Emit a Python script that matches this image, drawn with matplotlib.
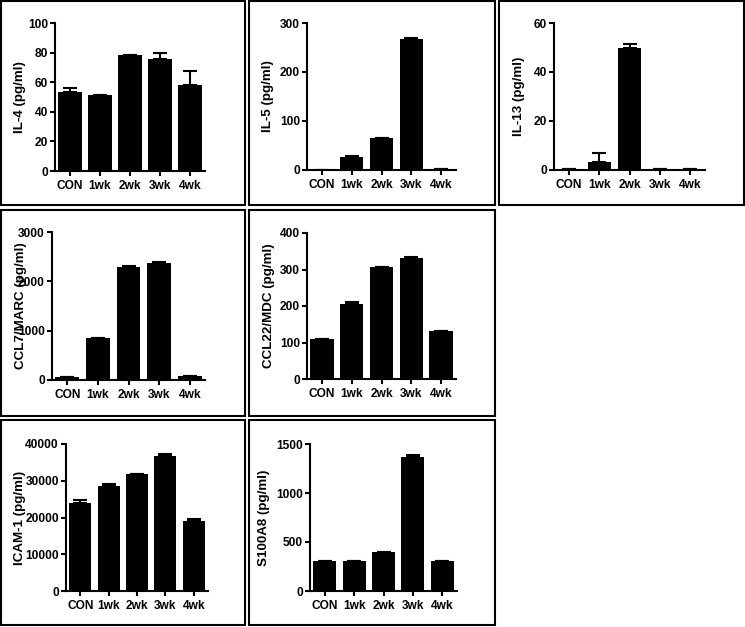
import matplotlib
matplotlib.use("Agg")
import matplotlib.pyplot as plt
from matplotlib.patches import Rectangle

plt.rcParams['font.family'] = ['Liberation Sans', 'DejaVu Sans']
plt.rcParams['font.weight'] = 'bold'

groups = ['CON', '1wk', '2wk', '3wk', '4wk']

il4 = [53.6, 51.4, 78.4, 75.5, 58.1]
il4_err = [2.7, 0, 0, 4.0, 9.5]
il5 = [1, 27, 65.8, 268, 1.5]
il5_err = [0, 1, 0.5, 1.5, 0]
il13 = [0.5, 3.4, 49.6, 0.5, 0.5]
il13_err = [0, 3.4, 2.0, 0, 0]
ccl7 = [67, 846, 2289, 2370, 88]
ccl7_err = [0, 10, 15, 15, 0]
ccl22 = [108.5, 205, 307, 332.7, 131]
ccl22_err = [0, 4.7, 1, 1, 0]
icam1 = [23830, 28630, 31740, 36730, 19000]
icam1_err = [820, 470, 100, 460, 470]
s100a8 = [307, 307, 399, 1370, 307]
s100a8_err = [0, 0, 0, 18, 0]

W, H = 745, 627
fig = plt.figure(figsize=(W / 100, H / 100), dpi=100)

# (label, values, err, yticks, axes box px [x0, x1, ytop, ybot], label x px, panel box px)
panels = [
    ('IL-4 (pg/ml)', il4, il4_err, [0, 20, 40, 60, 80, 100], [55, 205, 23, 171], 20.5, [1, 245, 1, 205]),
    ('IL-5 (pg/ml)', il5, il5_err, [0, 100, 200, 300], [307, 456, 23, 170], 268, [249, 495, 1, 205]),
    ('IL-13 (pg/ml)', il13, il13_err, [0, 20, 40, 60], [554, 705, 23, 170], 519, [499, 744, 1, 205]),
    ('CCL7/MARC (pg/ml)', ccl7, ccl7_err, [0, 1000, 2000, 3000], [52, 205, 232, 380], 21, [1, 245, 210, 416]),
    ('CCL22/MDC (pg/ml)', ccl22, ccl22_err, [0, 100, 200, 300, 400], [307, 456, 233, 379], 269, [249, 495, 210, 416]),
    ('ICAM-1 (pg/ml)', icam1, icam1_err, [0, 10000, 20000, 30000, 40000], [66, 208, 444, 591], 20, [1, 245, 420, 625]),
    ('S100A8 (pg/ml)', s100a8, s100a8_err, [0, 500, 1000, 1500], [310, 457, 444, 591], 264, [249, 495, 420, 625]),
]

for label, vals, err, yt, (x0, x1, yt_px, yb_px), lx, (bx0, bx1, by0, by1) in panels:
    # panel frame
    fig.add_artist(Rectangle((bx0 / W, 1 - by1 / H), (bx1 - bx0) / W, (by1 - by0) / H,
                             transform=fig.transFigure, fill=False, lw=1.5, ec='black'))
    ax = fig.add_axes([x0 / W, 1 - yb_px / H, (x1 - x0) / W, (yb_px - yt_px) / H])
    xs = range(len(groups))
    ax.bar(xs, vals, width=0.78, color='black', zorder=2)
    ax.errorbar(xs, vals, yerr=[[0] * len(err), err], fmt='none', ecolor='black',
                elinewidth=1.5, capsize=5, capthick=1.5, zorder=3)
    ax.set_xlim(-0.5, 4.5)
    ax.set_ylim(0, yt[-1])
    ax.set_yticks(yt)
    ax.set_xticks(list(xs))
    ax.set_xticklabels(groups)
    for s in ['top', 'right']:
        ax.spines[s].set_visible(False)
    for s in ['left', 'bottom']:
        ax.spines[s].set_linewidth(1.5)
    ax.tick_params(direction='out', length=3.6, width=1.5, labelsize=8.6, pad=1.5)
    ax.tick_params(axis='x', pad=3)
    ax.set_ylabel(label, fontsize=9.6, fontweight='bold', va='center')
    ax.yaxis.set_label_coords((lx - x0) / (x1 - x0), 0.5)
    for t in ax.get_xticklabels() + ax.get_yticklabels():
        t.set_fontweight('bold')

fig.savefig('out.png', dpi=100)
